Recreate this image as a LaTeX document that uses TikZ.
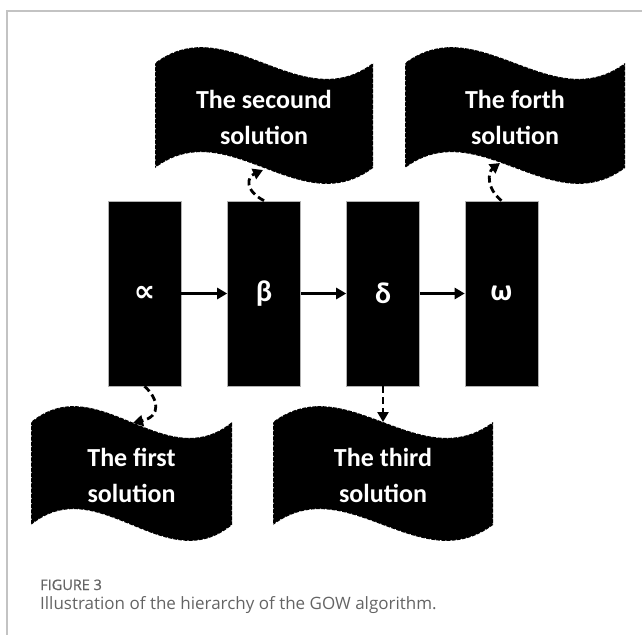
\documentclass[tikz,border=0pt]{standalone}
\usepackage{fontspec}
\newfontfamily\carlito{Carlito}
\newfontfamily\dejavu{DejaVu Sans}
\newfontfamily\opensans{Open Sans}
\newfontfamily\opensansfig[FakeBold=0.7]{Open Sans}
\usetikzlibrary{arrows.meta}
\definecolor{capgray}{RGB}{100,100,100}
\definecolor{framegray}{RGB}{195,195,195}
\newcommand\wavebanner[6]{%
  \pgfmathsetmacro\wA{#2+(#3-#2)/3}%
  \pgfmathsetmacro\wB{#2+2*(#3-#2)/3}%
  \path[bannerfill] (#2,#4) .. controls (\wA,#4-55) and (\wB,#4+55) .. (#3,#4)
     -- (#3,#5) .. controls (\wB,#5+55) and (\wA,#5-55) .. (#2,#5) -- cycle;
  \node[bannertext] (#1) at ({(#2+#3)/2},{(#4+#5)/2+2}) {#6};%
}
\begin{document}
\begin{tikzpicture}[x=1pt,y=-1pt,
  blockbox/.style={fill=black,draw=gray!60,line width=0.6pt,minimum width=73pt,minimum height=185pt,inner sep=0pt,text=white,font=\carlito\bfseries\fontsize{30}{32}\selectfont},
  flowarrow/.style={-{Triangle[length=10pt,width=11pt]},line width=2.8pt},
  solarrow/.style={-{Triangle[length=10pt,width=11pt]},line width=2.8pt,dash pattern=on 7pt off 4pt},
  bannerfill/.style={fill=black,draw=white,line width=1pt,dash pattern=on 1.2pt off 4pt},
  bannertext/.style={text=white,align=center,font=\carlito\bfseries\fontsize{26}{36}\selectfont,inner sep=0pt},
  captext/.style={anchor=base west,inner sep=0pt,text=capgray}]
\useasboundingbox (0,0) rectangle (642,635);
\draw[framegray,line width=1.2pt] (642,11) -- (7,11) -- (7,635);

\node[blockbox] (a) at (144.5,293.5) {\dejavu\bfseries\fontsize{30}{32}\selectfont ∝};
\node[blockbox] (b) at (264,293.5) {β};
\node[blockbox] (c) at (383,293.5) {δ};
\node[blockbox] (d) at (501.5,293.5) {ω};

\draw[flowarrow] (a) -- (b);
\draw[flowarrow] (b) -- (c);
\draw[flowarrow] (c) -- (d);

\wavebanner{s2}{155}{373}{63}{168}{The secound\\solution}
\wavebanner{s4}{405}{625}{63}{168}{The forth\\solution}
\wavebanner{s1}{31}{232}{422}{525}{The first\\solution}
\wavebanner{s3}{273}{493}{422}{525}{The third\\solution}

\coordinate (t1) at (133,423);
\coordinate (t2) at (263,170);
\coordinate (t3) at (383,422);
\coordinate (t4) at (500,163);
\draw[solarrow] (a.south) .. controls (158,398) and (162,416) .. (t1);
\draw[solarrow] (b.north) .. controls (244,190) and (247,177) .. (t2);
\draw[solarrow] (c.south) -- (t3);
\draw[solarrow] (d.north) .. controls (486,188) and (488,172) .. (t4);

\node[captext,font=\opensansfig\fontsize{14.5}{16}\selectfont] (fig) at (40,590) {FIGURE 3};
\node[captext,font=\opensans\fontsize{17}{20}\selectfont] (cap) at (40,609) {Illustration of the hierarchy of the GOW algorithm.};
\end{tikzpicture}
\end{document}
